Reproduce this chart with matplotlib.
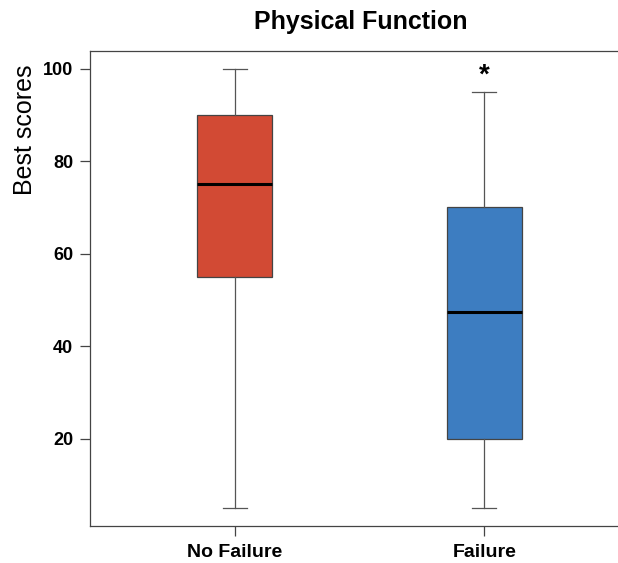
import matplotlib
matplotlib.use("Agg")
import matplotlib.pyplot as plt

groups = ["No Failure", "Failure"]
whisker_low = [5, 5]
q1 = [55, 20]
medians = [75, 47.5]
q3 = [90, 70]
whisker_high = [100, 95]
box_colors = ["#D24A34", "#3D7DC1"]
star_group = 1
star_value = 98.5

plt.rcParams['font.family'] = ['Liberation Sans', 'DejaVu Sans']

fig = plt.figure(figsize=(6.18, 5.63), dpi=100)
ax = fig.add_axes([90 / 618, 1 - 526 / 563, (629 - 90) / 618, (526 - 51) / 563])

stats = []
for i, g in enumerate(groups):
    stats.append({"label": g, "whislo": whisker_low[i], "q1": q1[i], "med": medians[i],
                  "q3": q3[i], "whishi": whisker_high[i], "fliers": []})

bp = ax.bxp(stats, positions=[1, 2], widths=0.3, patch_artist=True, showfliers=False,
            boxprops=dict(edgecolor="#444444", linewidth=0.9),
            medianprops=dict(color="black", linewidth=2.2),
            whiskerprops=dict(color="#555555", linewidth=0.9, linestyle="-"),
            capprops=dict(color="#555555", linewidth=0.9),
            capwidths=0.095)
for patch, c in zip(bp["boxes"], box_colors):
    patch.set_facecolor(c)

ax.text(star_group + 1, star_value, "*", ha="center", va="center", fontsize=20, fontweight="bold")

ax.set_xlim(0.42, 2.58)
ax.set_ylim(1.2, 103.8)
ax.set_yticks([20, 40, 60, 80, 100])
ax.set_xticks([1, 2])
ax.set_xticklabels(groups)
for lab in ax.get_xticklabels() + ax.get_yticklabels():
    lab.set_fontweight("bold")
ax.tick_params(axis="both", direction="out", length=7, width=0.9, color="#444444")
ax.tick_params(axis="x", pad=6, labelsize=14)
ax.tick_params(axis="y", pad=5, labelsize=13)
for s in ax.spines.values():
    s.set_color("#444444")
    s.set_linewidth(0.9)

ax.set_ylabel("Best scores", fontsize=18)
ax.yaxis.set_label_coords(-0.098, 0.834)
fig.text(361 / 618, 1 - 22 / 563, "Physical Function", ha="center", va="center",
         fontsize=18, fontweight="bold")

fig.savefig("out.png", dpi=100)
